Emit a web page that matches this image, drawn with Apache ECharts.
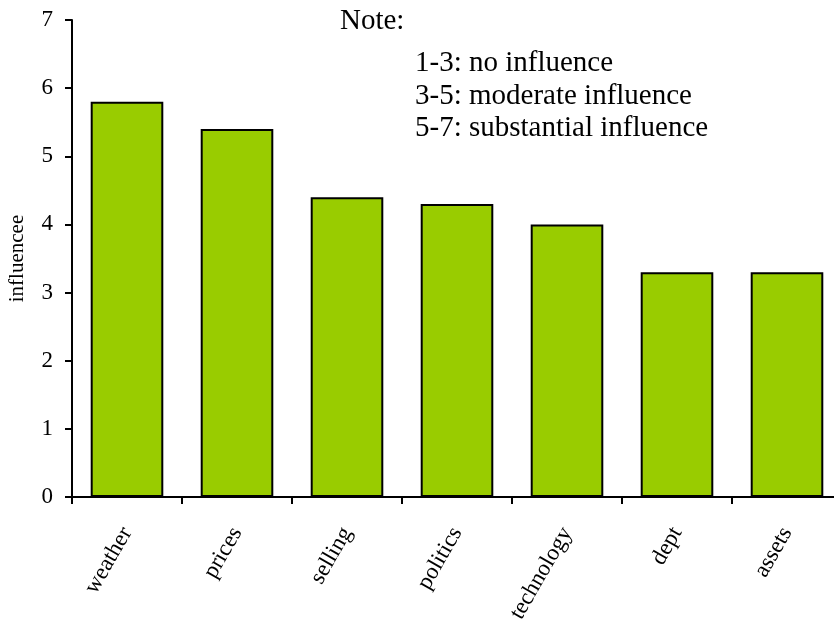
<!DOCTYPE html>
<html>
<head>
<meta charset="utf-8">
<script src="https://cdn.jsdelivr.net/npm/echarts@6/dist/echarts.min.js"></script>
<style>html,body{margin:0;padding:0;background:#fff;}#c{width:834px;height:622px;}</style>
</head>
<body>
<div id="c"></div>
<script>
const categories = ['weather', 'prices', 'selling', 'politics', 'technology', 'dept', 'assets'];
const values = [5.8, 5.4, 4.4, 4.3, 4.0, 3.3, 3.3];
const yTicks = [0, 1, 2, 3, 4, 5, 6, 7];
const noteTitle = 'Note:';
const noteLines = ['1-3: no influence', '3-5: moderate influence', '5-7: substantial influence'];

const font = 'Liberation Serif, Times New Roman, serif';
const chart = echarts.init(document.getElementById('c'));
chart.setOption({
  animation: false,
  grid: { left: 72, right: -8, top: 20, bottom: 125, outerBoundsMode: 'none', containLabel: false },
  xAxis: {
    type: 'category',
    data: categories,
    boundaryGap: true,
    axisLine: { lineStyle: { color: '#000', width: 2 } },
    axisTick: { show: true, length: 7, inside: false, lineStyle: { color: '#000', width: 2 } },
    axisLabel: { rotate: 60, margin: 32, color: '#000', fontFamily: font, fontSize: 23 }
  },
  yAxis: {
    type: 'value',
    min: yTicks[0],
    max: yTicks[yTicks.length - 1],
    interval: 1,
    name: 'influencee',
    nameLocation: 'middle',
    nameGap: 44,
    nameRotate: 90,
    nameTextStyle: { color: '#000', fontFamily: font, fontSize: 21 },
    splitLine: { show: false },
    axisLine: { show: true, lineStyle: { color: '#000', width: 2 } },
    axisTick: { show: true, length: 7, inside: false, lineStyle: { color: '#000', width: 2 } },
    axisLabel: { margin: 19, color: '#000', fontFamily: font, fontSize: 23 }
  },
  series: [{
    type: 'bar',
    data: values,
    barWidth: '66%',
    itemStyle: { color: '#99CC00', borderColor: '#000', borderWidth: 2 }
  }],
  graphic: [
    { type: 'text', left: 340, top: 7, style: { text: noteTitle, fill: '#000', font: '29px ' + font } }
  ].concat(noteLines.map((t, i) => ({
    type: 'text', left: 415, top: 49 + i * 32.5, style: { text: t, fill: '#000', font: '29px ' + font }
  })))
});
</script>
</body>
</html>
